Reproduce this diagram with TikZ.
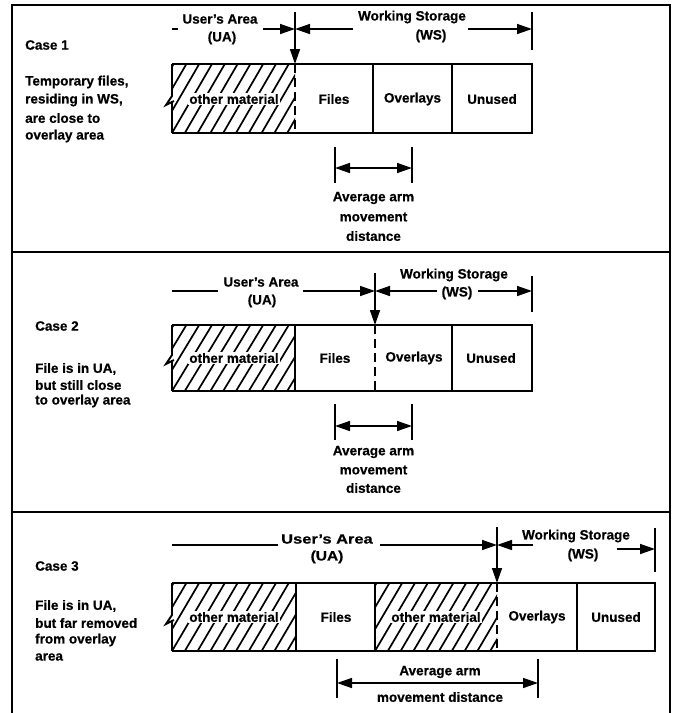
\documentclass[tikz,border=0pt]{standalone}
\usepackage{fontspec}
\usepackage{graphicx}
\setmainfont{Liberation Sans}[BoldFeatures={FakeBold=0.6}]
\usetikzlibrary{arrows.meta}
\newcommand\hatchbox[4]{%
  \begin{scope}
    \clip (#1,#2) rectangle (#3,#4);
    \foreach \k in {-4,...,11}
      \draw[hatchline] ({#1+\k*12.8},#4) -- ({#1+\k*12.8+40},#2);
  \end{scope}}
\newcommand\breakedge[4]{% x, top, bottom, mid
  \draw[barline, line join=miter] (#1,#2) -- (#1,#4-5) -- (#1-6,#4+4) -- (#1+2,#4);
  \draw[barline] (#1,#4) -- (#1,#3);}
\begin{document}
\begin{tikzpicture}[x=1pt,y=-1pt,
  lbl/.style={font=\fontsize{13.5}{16}\selectfont\bfseries, inner sep=0pt},
  side/.style={lbl, anchor=west},
  mat/.style={lbl, fill=white, inner sep=1.5pt},
  frame/.style={line width=2.2pt},
  barline/.style={line width=1.9pt},
  dashline/.style={line width=2.1pt, dash pattern=on 9pt off 5pt},
  hatchline/.style={line width=1.7pt},
  dim/.style={line width=1.5pt},
  tip/.style={-{Triangle[length=15pt,width=10pt]}},
  tips/.style={{Triangle[length=15pt,width=10pt]}-{Triangle[length=15pt,width=10pt]}}
]
\useasboundingbox (0,0) rectangle (677,713);
\fill[white] (0,0) rectangle (677,713);

% frame
\draw[frame] (12,713) -- (12,5) -- (670,5) -- (670,713);
\draw[frame] (12,252) -- (670,252);
\draw[frame] (12,512) -- (670,512);

% ================= Case 1 =================
\node[side] (c1) at (25,45) {Case 1};
\node[side] (c1a) at (25,82) {Temporary files,};
\node[side] (c1b) at (25,100) {residing in WS,};
\node[side] (c1c) at (25,118) {are close to};
\node[side] (c1d) at (25,136) {overlay area};

\hatchbox{172}{64}{295}{133}
\node[mat] (om1) at (234,99) {other material};
\draw[barline] (172,64) -- (532,64) -- (532,133) -- (172,133);
\breakedge{172}{64}{133}{101}
\draw[dashline] (295,64) -- (295,133);
\draw[barline] (373,64) -- (373,133);
\draw[barline] (452,64) -- (452,133);
\node[lbl] (f1) at (334,99) {Files};
\node[lbl] (o1) at (412.5,99) {Overlays};
\node[lbl] (u1) at (492,99) {Unused};

\node[lbl] (ua1) at (220,19) {User’s Area};
\node[lbl] (ua1b) at (222,38) {(UA)};
\node[lbl] (ws1) at (412,17) {Working Storage};
\node[lbl] (ws1b) at (431,36) {(WS)};
\coordinate (j1) at (295,29);
\coordinate (j1t) at (295,12);
\coordinate (j1b) at (295,64);
\coordinate (ua1l) at (172,29);
\coordinate (ua1m) at (178,29);
\coordinate (ua1r) at (263,29);
\coordinate (ws1l) at (353,29);
\coordinate (ws1r) at (468,29);
\coordinate (e1) at (532,29);
\coordinate (e1t) at (532,12);
\coordinate (e1b) at (532,50);
\draw[dim] (ua1l) -- (ua1m);
\draw[dim, tip] (ua1r) -- (j1);
\draw[dim, tip] (ws1l) -- (j1);
\draw[dim, tip] (ws1r) -- (e1);
\draw[dim, tip] (j1t) -- (j1b);
\draw[frame] (e1t) -- (e1b);

\coordinate (a1l) at (335,168);
\coordinate (a1r) at (412,168);
\draw[frame] (335,147) -- (335,183);
\draw[frame] (412,147) -- (412,183);
\draw[dim, tips] (a1l) -- (a1r);
\node[lbl] (av1a) at (373.5,198) {Average arm};
\node[lbl] (av1b) at (373.5,217) {movement};
\node[lbl] (av1c) at (373.5,236) {distance};

% ================= Case 2 =================
\node[side] (c2) at (35,326) {Case 2};
\node[side] (c2a) at (35,369) {File is in UA,};
\node[side] (c2b) at (35,385) {but still close};
\node[side] (c2c) at (35,401) {to overlay area};

\hatchbox{172}{325}{295}{391}
\node[mat] (om2) at (234,358) {other material};
\draw[barline] (172,325) -- (532,325) -- (532,391) -- (172,391);
\breakedge{172}{325}{391}{360}
\draw[barline] (295,325) -- (295,391);
\draw[dashline] (375,325) -- (375,391);
\draw[barline] (452,325) -- (452,391);
\node[lbl] (f2) at (335,358) {Files};
\node[lbl] (o2) at (414,358) {Overlays};
\node[lbl] (u2) at (491,358) {Unused};

\node[lbl] (ua2) at (261,282) {User’s Area};
\node[lbl] (ua2b) at (262,301) {(UA)};
\node[lbl] (ws2) at (454,275) {Working Storage};
\node[lbl] (ws2b) at (457,293) {(WS)};
\coordinate (j2) at (375,291);
\coordinate (j2t) at (375,273);
\coordinate (j2b) at (375,325);
\coordinate (ua2l) at (172,291);
\coordinate (ua2m) at (218,291);
\coordinate (ua2r) at (303,291);
\coordinate (ws2l) at (437,291);
\coordinate (ws2r) at (478,291);
\coordinate (e2) at (532,291);
\coordinate (e2t) at (532,276);
\coordinate (e2b) at (532,312);
\draw[dim] (ua2l) -- (ua2m);
\draw[dim, tip] (ua2r) -- (j2);
\draw[dim, tip] (ws2l) -- (j2);
\draw[dim, tip] (ws2r) -- (e2);
\draw[dim, tip] (j2t) -- (j2b);
\draw[frame] (e2t) -- (e2b);

\coordinate (a2l) at (335,426);
\coordinate (a2r) at (412,426);
\draw[frame] (335,404) -- (335,440);
\draw[frame] (412,404) -- (412,440);
\draw[dim, tips] (a2l) -- (a2r);
\node[lbl] (av2a) at (373.5,452) {Average arm};
\node[lbl] (av2b) at (373.5,470) {movement};
\node[lbl] (av2c) at (373.5,488) {distance};

% ================= Case 3 =================
\node[side] (c3) at (35,566) {Case 3};
\node[side] (c3a) at (35,606) {File is in UA,};
\node[side] (c3b) at (35,623) {but far removed};
\node[side] (c3c) at (35,640) {from overlay};
\node[side] (c3d) at (35,657) {area};

\hatchbox{172}{583}{296}{651}
\hatchbox{375}{583}{497}{651}
\node[mat] (om3) at (234,617) {other material};
\node[mat] (om3b) at (436,617) {other material};
\draw[barline] (172,583) -- (655,583) -- (655,651) -- (172,651);
\breakedge{172}{583}{651}{620}
\draw[barline] (296,583) -- (296,651);
\draw[barline] (375,583) -- (375,651);
\draw[dashline] (497,583) -- (497,651);
\draw[barline] (577,583) -- (577,651);
\node[lbl] (f3) at (336,617) {Files};
\node[lbl] (o3) at (537,617) {Overlays};
\node[lbl] (u3) at (616,617) {Unused};

\node[lbl] (ua3) at (327,539) {\scalebox{1.22}[1]{User’s Area}};
\node[lbl] (ua3b) at (327,557) {\scalebox{1.15}[1]{(UA)}};
\node[lbl] (ws3) at (576,536) {Working Storage};
\node[lbl] (ws3b) at (583,555) {(WS)};
\coordinate (j3) at (497,545);
\coordinate (j3t) at (497,527);
\coordinate (j3b) at (497,583);
\coordinate (ua3l) at (172,545);
\coordinate (ua3m) at (278,545);
\coordinate (ua3r) at (380,545);
\coordinate (ws3l) at (533,545);
\coordinate (ws3r) at (617,549);
\coordinate (e3) at (655,549);
\coordinate (e3t) at (655,528);
\coordinate (e3b) at (655,572);
\draw[dim] (ua3l) -- (ua3m);
\draw[dim, tip] (ua3r) -- (j3);
\draw[dim, tip] (ws3l) -- (j3);
\draw[dim, tip] (ws3r) -- (e3);
\draw[dim, tip] (j3t) -- (j3b);
\draw[frame] (e3t) -- (e3b);

\coordinate (a3l) at (337,683);
\coordinate (a3r) at (538,683);
\draw[frame] (337,659) -- (337,698);
\draw[frame] (538,659) -- (538,698);
\draw[dim, tips] (a3l) -- (a3r);
\node[lbl] (av3a) at (440,672) {Average arm};
\node[lbl] (av3b) at (440,697) {movement distance};
\end{tikzpicture}
\end{document}
